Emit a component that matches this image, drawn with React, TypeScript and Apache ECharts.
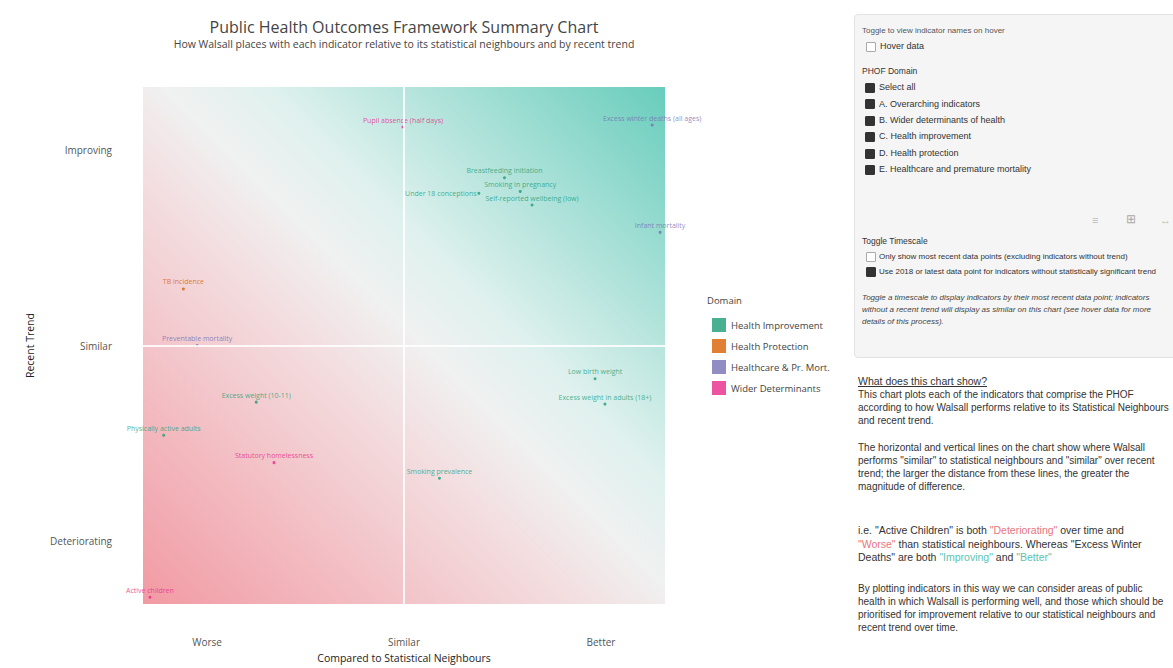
import React, { useEffect, useRef } from "react";
import * as echarts from "echarts";

// ---------- data ----------
const domainNames = [
  "Health Improvement",
  "Health Protection",
  "Healthcare & Pr. Mort.",
  "Wider Determinants",
];
const indicators = [
  "Pupil absence (half days)",
  "Excess winter deaths (all ages)",
  "Breastfeeding initiation",
  "Smoking in pregnancy",
  "Under 18 conceptions",
  "Self-reported wellbeing (low)",
  "Infant mortality",
  "TB incidence",
  "Preventable mortality",
  "Excess weight (10-11)",
  "Physically active adults",
  "Statutory homelessness",
  "Smoking prevalence",
  "Low birth weight",
  "Excess weight in adults (18+)",
  "Active children",
];
// Compared to statistical neighbours (-1 worse .. 1 better)
const neighbourScores = [-0.005, 1.26, 0.51, 0.59, 0.38, 0.65, 1.3, -1.12, -1.05, -0.75, -1.22, -0.66, 0.18, 0.97, 1.02, -1.29];
// Recent trend (-1 deteriorating .. 1 improving)
const trendScores = [1.12, 1.13, 0.86, 0.79, 0.78, 0.72, 0.58, 0.29, 0.0, -0.29, -0.46, -0.6, -0.68, -0.17, -0.3, -1.29];
const domainOf = [3, 2, 0, 0, 0, 0, 2, 1, 2, 0, 0, 3, 0, 0, 0, 3];
const tickValues = [-1, 0, 1];
const xTickLabels = ["Worse", "Similar", "Better"];
const yTickLabels = ["Deteriorating", "Similar", "Improving"];

// ---------- style ----------
const domainColors = ["#1b9e77", "#d95f02", "#7570b3", "#e7298a"];
const labelOffsets: Record<number, number[]> = { 4: [-38, 7] };
const FONT = "'Open Sans', 'Liberation Sans', Arial, sans-serif";
const SIDEFONT = "'Liberation Sans', Arial, Helvetica, sans-serif";

function buildOption(): any {
  const series = domainNames.map((d, di) => ({
    name: d,
    type: "scatter",
    symbolSize: 3,
    itemStyle: { color: domainColors[di] },
    label: {
      show: true,
      position: "top",
      distance: 2,
      formatter: "{b}",
      fontSize: 7,
      fontFamily: FONT,
      color: domainColors[di],
    },
    data: indicators
      .map((n, i) => ({ n, i }))
      .filter((o) => domainOf[o.i] === di)
      .map((o) => ({
        name: o.n,
        value: [neighbourScores[o.i], trendScores[o.i]],
        label: labelOffsets[o.i] ? { offset: labelOffsets[o.i] } : undefined,
      })),
    markLine:
      di === 0
        ? {
            silent: true,
            symbol: "none",
            label: { show: false },
            lineStyle: { color: "#ffffff", width: 2, type: "solid", opacity: 0.85 },
            data: [{ xAxis: 0 }, { yAxis: 0 }],
          }
        : undefined,
    z: 3,
  }));

  return {
    animation: false,
    textStyle: { fontFamily: FONT },
    grid: {
      left: 143,
      top: 87,
      width: 522,
      height: 520,
      show: true,
      borderWidth: 0,
      backgroundColor: new echarts.graphic.LinearGradient(0, 1, 1, 0, [
        { offset: 0, color: "#f29aa3" },
        { offset: 0.42, color: "#f3dfe1" },
        { offset: 0.52, color: "#f0f1f1" },
        { offset: 0.62, color: "#dff1ee" },
        { offset: 1, color: "#68cdbc" },
      ]),
    },
    xAxis: {
      type: "value",
      min: -1.325,
      max: 1.325,
      name: "Compared to Statistical Neighbours",
      nameLocation: "middle",
      nameGap: 46,
      nameTextStyle: { fontSize: 10.5, color: "#222", fontFamily: FONT },
      axisLine: { show: false },
      axisTick: { show: false },
      splitLine: { show: false },
      axisLabel: {
        customValues: tickValues,
        formatter: (v: number) => xTickLabels[tickValues.indexOf(Math.round(v))] ?? "",
        margin: 33,
        fontSize: 10,
        color: "#555",
        fontFamily: FONT,
      },
    },
    yAxis: {
      type: "value",
      min: -1.325,
      max: 1.325,
      name: "Recent Trend",
      nameLocation: "middle",
      nameGap: 108,
      nameRotate: 90,
      nameTextStyle: { fontSize: 10.5, color: "#222", fontFamily: FONT },
      axisLine: { show: false },
      axisTick: { show: false },
      splitLine: { show: false },
      axisLabel: {
        customValues: tickValues,
        formatter: (v: number) => yTickLabels[tickValues.indexOf(Math.round(v))] ?? "",
        margin: 31,
        fontSize: 10,
        color: "#555",
        fontFamily: FONT,
      },
    },
    legend: {
      orient: "vertical",
      left: 707,
      top: 313,
      icon: "rect",
      itemWidth: 14,
      itemHeight: 14,
      itemGap: 7,
      textStyle: { fontSize: 9.5, color: "#444", fontFamily: FONT },
      data: domainNames,
    },
    graphic: [
      {
        type: "text",
        x: 404,
        y: 27,
        style: {
          text: "Public Health Outcomes Framework Summary Chart",
          fontSize: 16,
          fontFamily: FONT,
          fill: "#444",
          textAlign: "center",
          textVerticalAlign: "middle",
        },
      },
      {
        type: "text",
        x: 404,
        y: 44,
        style: {
          text: "How Walsall places with each indicator relative to its statistical neighbours and by recent trend",
          fontSize: 10.5,
          fontFamily: FONT,
          fill: "#444",
          textAlign: "center",
          textVerticalAlign: "middle",
        },
      },
      {
        type: "text",
        x: 707,
        y: 300,
        style: {
          text: "Domain",
          fontSize: 9.5,
          fontFamily: FONT,
          fill: "#444",
          textVerticalAlign: "middle",
        },
      },
    ],
    series,
  };
}

const phofDomains = [
  "Select all",
  "A. Overarching indicators",
  "B. Wider determinants of health",
  "C. Health improvement",
  "D. Health protection",
  "E. Healthcare and premature mortality",
];

function Box({ checked, x, y }: { checked: boolean; x: number; y: number }) {
  return (
    <div
      style={{
        position: "absolute",
        left: x,
        top: y - 5,
        width: 10,
        height: 10,
        boxSizing: "border-box",
        background: checked ? "#333" : "#fff",
        border: checked ? "1px solid #333" : "1px solid #aaa",
        borderRadius: 1,
      }}
    />
  );
}

function Line({ x, y, size, text, color, bold }: any) {
  return (
    <div
      style={{
        position: "absolute",
        left: x,
        top: y - size * 0.65,
        fontSize: size,
        color: color || "#333",
        whiteSpace: "nowrap",
        fontWeight: bold ? 700 : 400,
        lineHeight: 1.3,
      }}
    >
      {text}
    </div>
  );
}

const RED = "#e8757c";
const TEAL = "#5cc3b2";
const exampleLines: { t: string; c?: string }[][] = [
  [{ t: 'i.e. "Active Children" is both ' }, { t: '"Deteriorating"', c: RED }, { t: " over time and" }],
  [{ t: '"Worse"', c: RED }, { t: ' than statistical neighbours. Whereas "Excess Winter' }],
  [{ t: 'Deaths" are both ' }, { t: '"Improving"', c: TEAL }, { t: " and " }, { t: '"Better"', c: TEAL }],
];

export default function App() {
  const ref = useRef<HTMLDivElement>(null);
  useEffect(() => {
    const chart = echarts.init(ref.current!, null, { renderer: "svg" });
    chart.setOption(buildOption());
    return () => chart.dispose();
  }, []);

  const para: React.CSSProperties = {
    position: "absolute",
    left: 858,
    width: 312,
    fontSize: 10,
    lineHeight: "13px",
    color: "#333",
  };

  return (
    <div
      style={{
        position: "fixed",
        left: 0,
        top: 0,
        width: 1173,
        height: 668,
        background: "#fff",
        overflow: "hidden",
        fontFamily: SIDEFONT,
      }}
    >
      <div ref={ref} style={{ position: "absolute", left: 0, top: 0, width: 845, height: 668 }} />

      <div
        style={{
          position: "absolute",
          left: 854,
          top: 14,
          width: 340,
          height: 342,
          background: "#f5f5f5",
          border: "1px solid #e3e3e3",
          borderRadius: 4,
        }}
      />
      <Line x={862} y={31} size={8} color="#555" text="Toggle to view indicator names on hover" />
      <Box checked={false} x={866} y={47} />
      <Line x={880} y={47} size={9} text="Hover data" />
      <Line x={862} y={72} size={8.5} text="PHOF Domain" />
      {phofDomains.map((d, i) => (
        <React.Fragment key={d}>
          <Box checked={true} x={865} y={88 + i * 16.4} />
          <Line x={879} y={88 + i * 16.4} size={9} text={d} />
        </React.Fragment>
      ))}
      <Line x={1092} y={220} size={11} color="#bbb" text="≡" />
      <Line x={1126} y={220} size={12} color="#aaa" text="⊞" />
      <Line x={1160} y={220} size={11} color="#bbb" text="↔" />
      <Line x={862} y={242} size={8.5} text="Toggle Timescale" />
      <Box checked={false} x={866} y={257} />
      <Line x={879} y={257} size={8} text="Only show most recent data points (excluding indicators without trend)" />
      <Box checked={true} x={866} y={272} />
      <Line x={879} y={272} size={8} text="Use 2018 or latest data point for indicators without statistically significant trend" />
      <div style={{ ...para, left: 862, top: 292, width: 308, fontSize: 8, lineHeight: "12px", fontStyle: "italic", color: "#444" }}>
        Toggle a timescale to display indicators by their most recent data point; indicators without a recent trend
        will display as similar on this chart (see hover data for more details of this process).
      </div>

      <div style={{ ...para, top: 375, fontSize: 10.5, textDecoration: "underline" }}>What does this chart show?</div>
      <div style={{ ...para, top: 388 }}>
        This chart plots each of the indicators that comprise the PHOF according to how Walsall performs relative
        to its Statistical Neighbours and recent trend.
      </div>
      <div style={{ ...para, top: 441 }}>
        The horizontal and vertical lines on the chart show where Walsall performs "similar" to statistical
        neighbours and "similar" over recent trend; the larger the distance from these lines, the greater the
        magnitude of difference.
      </div>
      {exampleLines.map((ln, li) => (
        <div key={li} style={{ ...para, top: 524 + li * 13.5, whiteSpace: "nowrap", width: "auto", fontSize: 10.5 }}>
          {ln.map((s, si) => (
            <span key={si} style={{ color: s.c || "#333", whiteSpace: "pre" }}>
              {s.t}
            </span>
          ))}
        </div>
      ))}
      <div style={{ ...para, top: 582 }}>
        By plotting indicators in this way we can consider areas of public health in which Walsall is performing
        well, and those which should be prioritised for improvement relative to our statistical neighbours and
        recent trend over time.
      </div>
    </div>
  );
}
